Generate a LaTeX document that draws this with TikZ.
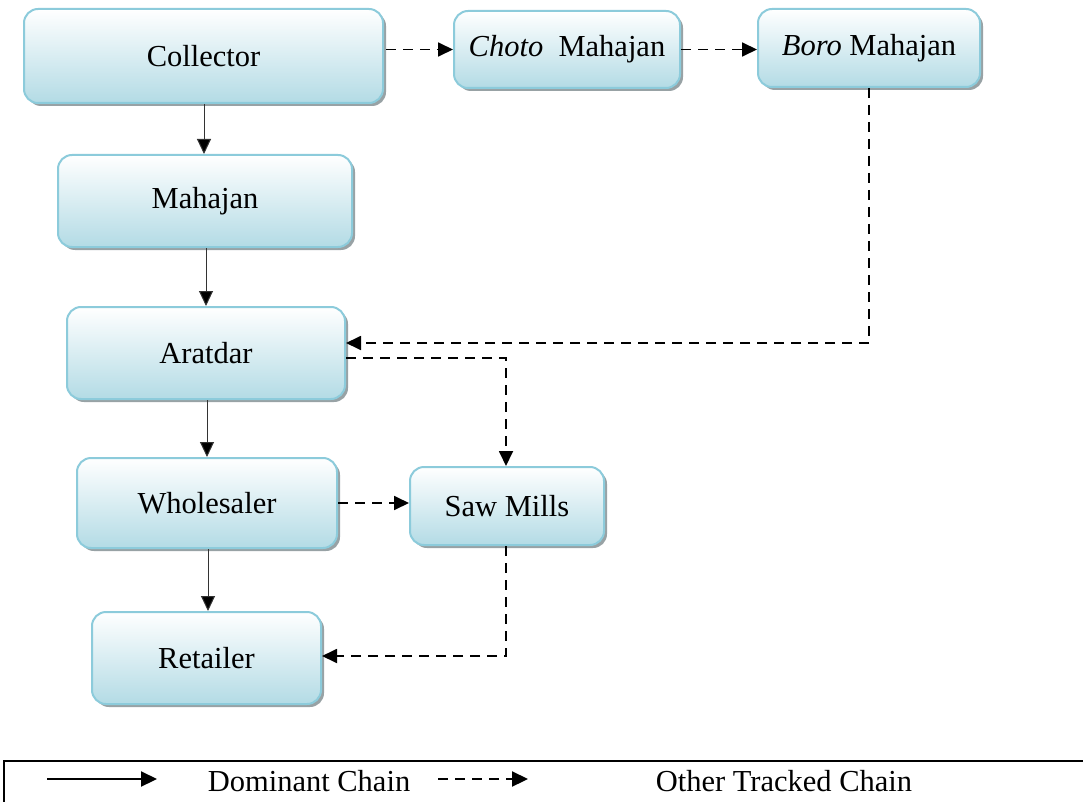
\documentclass[tikz,border=0pt]{standalone}
\usepackage{fontspec}
\setmainfont{Liberation Serif}
\usetikzlibrary{arrows.meta,calc}
\definecolor{boxblue}{HTML}{B3DBE5}
\definecolor{boxedge}{HTML}{8CCBDB}
\definecolor{shadowgray}{HTML}{98A2A5}
\tikzset{
  chainbox/.style={rounded corners=14pt, draw=boxedge, line width=2pt,
    top color=white, bottom color=boxblue, inner sep=0pt,
    font=\fontsize{30.5}{36}\selectfont,
    preaction={fill=shadowgray, rounded corners=14pt, transform canvas={shift={(3pt,-3pt)}}}},
  solidlink/.style={line width=1pt, draw=black!80, -{Triangle[length=15pt,width=14pt,fill=black]}},
  dashlink/.style={line width=1.8pt, dash pattern=on 10pt off 7pt, -{Triangle[length=15pt,width=14pt,fill=black]}},
  legendtext/.style={font=\fontsize{30.5}{36}\selectfont, inner sep=0pt}
}
\begin{document}
\begin{tikzpicture}[x=1pt,y=-1pt]
\useasboundingbox (0,0) rectangle (1083,802);
\clip (0,0) rectangle (1083,802);
% boxes
\node[chainbox, minimum width=359pt, minimum height=94pt] (coll) at (203.5,56) {Collector};
\node[chainbox, minimum width=226pt, minimum height=77pt] (choto) at (567,49.5) {\textit{Choto}\ \ Mahajan};
\node[chainbox, minimum width=222pt, minimum height=78pt] (boro) at (869,48) {\textit{Boro} Mahajan};
\node[chainbox, minimum width=294pt, minimum height=92pt] (maha) at (205,201) {Mahajan};
\node[chainbox, minimum width=278pt, minimum height=92pt] (arat) at (206,353) {Aratdar};
\node[chainbox, minimum width=260pt, minimum height=90pt] (whole) at (207,503) {Wholesaler};
\node[chainbox, minimum width=194pt, minimum height=78pt] (saw) at (507,506) {Saw Mills};
\node[chainbox, minimum width=229pt, minimum height=92pt] (ret) at (206.5,658) {Retailer};
% dominant chain
\draw[solidlink] ([xshift=0.5pt]coll.south) -- ([xshift=0.5pt]coll.south |- maha.north);
\draw[solidlink] ([xshift=1pt]maha.south) -- ([xshift=1pt]maha.south |- arat.north);
\draw[solidlink] ([xshift=1pt]arat.south) -- ([xshift=1pt]arat.south |- whole.north);
\draw[solidlink] ([xshift=1pt]whole.south) -- ([xshift=1pt]whole.south |- ret.north);
% other tracked chain
\draw[dashlink] ([xshift=2pt]coll.east |- choto.west) -- (choto.west);
\draw[dashlink] (choto.east) -- (choto.east -| boro.west);
\draw[dashlink] (boro.south) |- ([yshift=10pt]arat.east);
\draw[dashlink] ([yshift=-5pt]arat.east) -| ([xshift=-1pt]saw.north);
\draw[dashlink] (whole.east) -- (whole.east -| saw.west);
\draw[dashlink] ([xshift=-1pt]saw.south) |- ([yshift=2pt]ret.east);
% legend
\draw[line width=1.5pt] (4,830) -- (4,761) -- (1100,761);
\coordinate (ls1) at (47,779);
\coordinate (le1) at (157,779);
\coordinate (ls2) at (438,779);
\coordinate (le2) at (528,779);
\draw[line width=2.2pt, -{Triangle[length=16pt,width=15pt]}] (ls1) -- (le1);
\draw[line width=2.2pt, dash pattern=on 10pt off 7pt, -{Triangle[length=16pt,width=15pt]}] (ls2) -- (le2);
\node[legendtext] (dom) at (309,781) {Dominant Chain};
\node[legendtext] (oth) at (784,781) {Other Tracked Chain};
\end{tikzpicture}
\end{document}
